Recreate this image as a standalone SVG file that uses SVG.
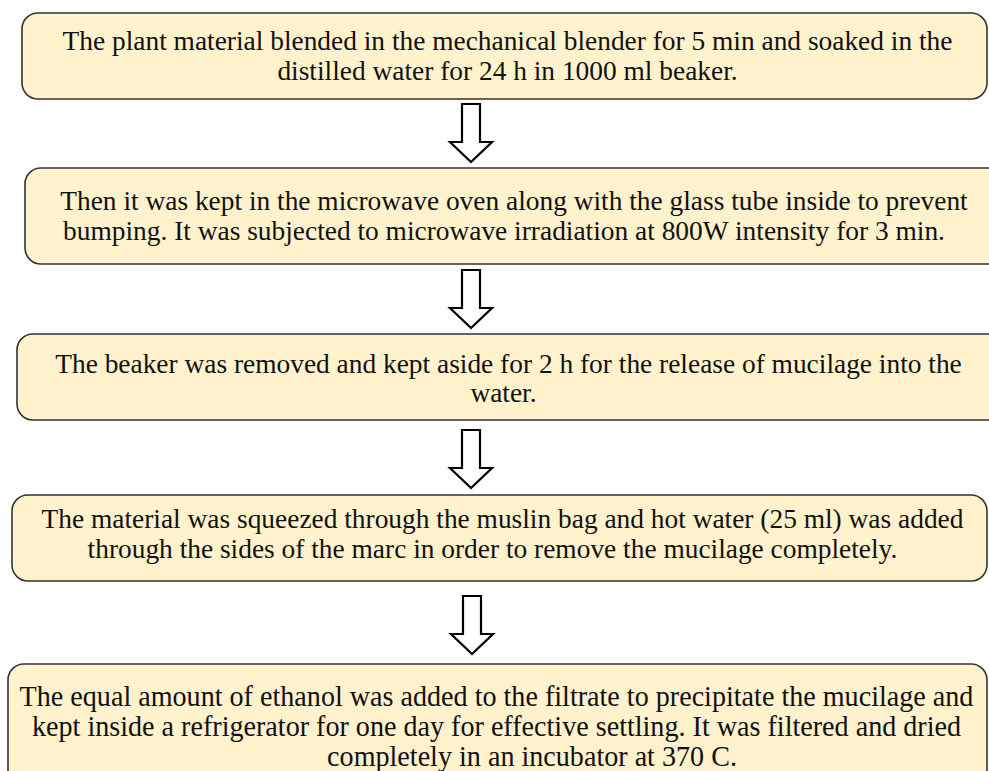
<svg xmlns="http://www.w3.org/2000/svg" width="989" height="771" viewBox="0 0 989 771">
<style>
.box{fill:#fff2cc;stroke:#333;stroke-width:1.6}
.arr{fill:#fff;stroke:#000;stroke-width:2.2;stroke-linejoin:miter}
</style>
<defs>
<path id="arrow" class="arr" d="M-9,0 H9 V38 H21 L0,58 L-21,38 H-9 Z"/>
</defs>
<rect width="989" height="771" fill="#fff"/>
<g id="connectors">
<use href="#arrow" x="471" y="104"/>
<use href="#arrow" x="471" y="270"/>
<use href="#arrow" x="471" y="430"/>
<use href="#arrow" x="472" y="596"/>
</g>
<g id="step1" font-family="Liberation Serif, serif" font-size="27.4" fill="#111" text-anchor="middle">
<rect class="box" x="22" y="13" width="965" height="86" rx="16"/>
<text x="507.5" y="50">The plant material blended in the mechanical blender for 5 min and soaked in the</text>
<text x="507.5" y="80">distilled water for 24 h in 1000 ml beaker.</text>
</g>
<g id="step2" font-family="Liberation Serif, serif" font-size="27.4" fill="#111" text-anchor="middle">
<rect class="box" x="25" y="168" width="980" height="96" rx="16"/>
<text x="514" y="210">Then it was kept in the microwave oven along with the glass tube inside to prevent</text>
<text x="504" y="240">bumping. It was subjected to microwave irradiation at 800W intensity for 3 min.</text>
</g>
<g id="step3" font-family="Liberation Serif, serif" font-size="27.4" fill="#111" text-anchor="middle">
<rect class="box" x="17" y="334" width="990" height="86" rx="16"/>
<text x="508.5" y="373">The beaker was removed and kept aside for 2 h for the release of mucilage into the</text>
<text x="503.5" y="402">water.</text>
</g>
<g id="step4" font-family="Liberation Serif, serif" font-size="27.4" fill="#111" text-anchor="middle">
<rect class="box" x="12" y="495" width="975" height="86" rx="16"/>
<text x="502.5" y="528">The material was squeezed through the muslin bag and hot water (25 ml) was added</text>
<text x="492.5" y="558">through the sides of the marc in order to remove the mucilage completely.</text>
</g>
<g id="step5" font-family="Liberation Serif, serif" font-size="29" fill="#111" text-anchor="middle">
<rect class="box" x="8" y="664" width="979" height="130" rx="16"/>
<text transform="translate(496.5,706) scale(0.97,1)">The equal amount of ethanol was added to the filtrate to precipitate the mucilage and</text>
<text transform="translate(496.5,736) scale(0.97,1)">kept inside a refrigerator for one day for effective settling. It was filtered and dried</text>
<text transform="translate(532,766) scale(0.97,1)">completely in an incubator at 370 C.</text>
</g>
</svg>
